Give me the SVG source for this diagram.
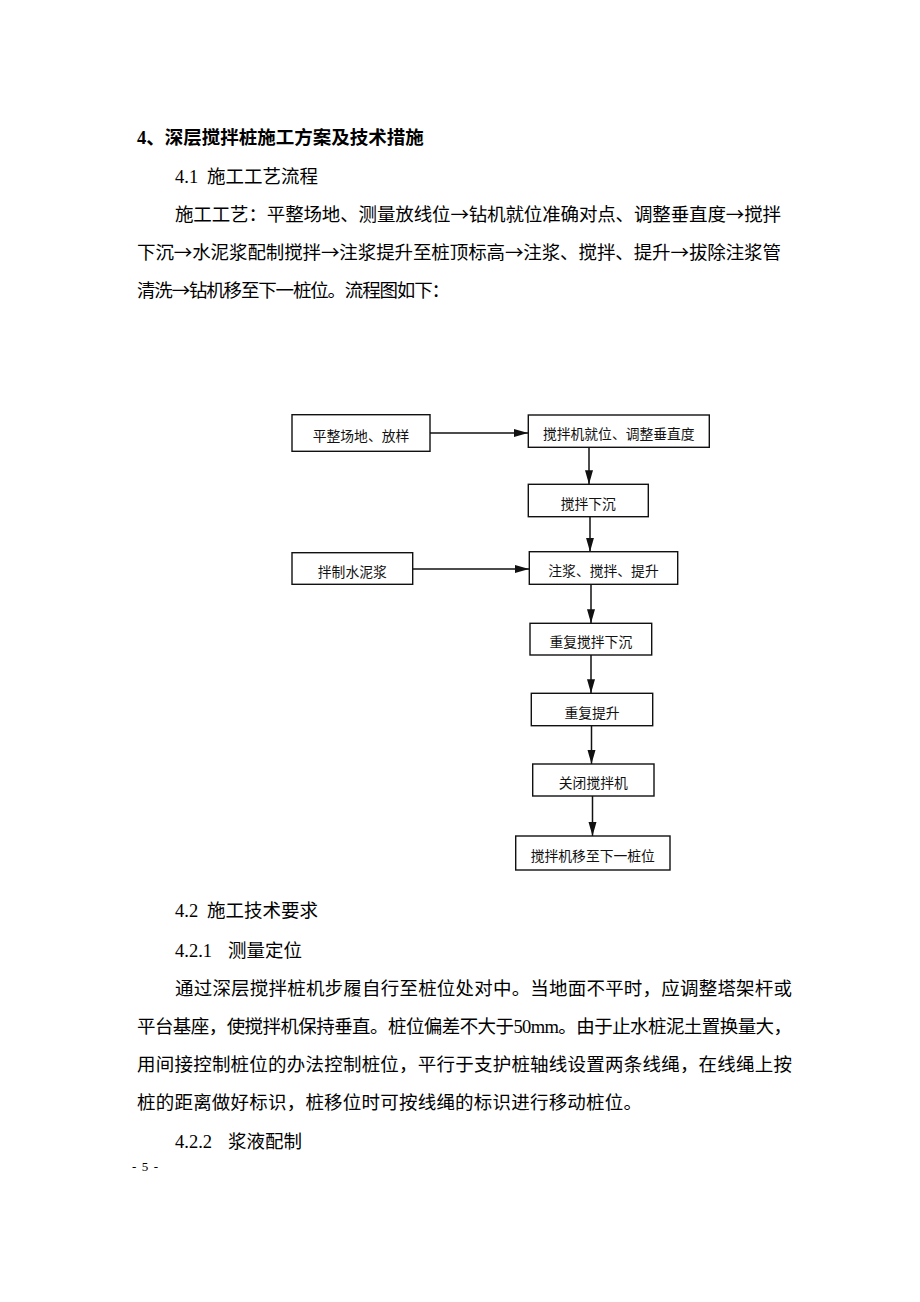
<svg xmlns="http://www.w3.org/2000/svg" width="920" height="1302" viewBox="0 0 920 1302">
<style>
.body{font-family:"Liberation Serif","Noto Sans CJK SC",serif;font-size:18.5px;fill:#000}
.head{font-weight:bold}
.ar{font-family:"Noto Sans CJK SC",sans-serif}
.box{fill:#fff;stroke:#111;stroke-width:1.4}
.lbl{font-family:"Noto Sans CJK SC","Liberation Serif",sans-serif;font-size:13.8px;fill:#111;text-anchor:middle}
.con{stroke:#111;stroke-width:1.5;fill:none;marker-end:url(#ah)}
.foot{font-family:"Liberation Serif",serif;font-size:13px;fill:#000}
</style>
<defs>
<marker id="ah" markerUnits="userSpaceOnUse" markerWidth="15" markerHeight="9" refX="14" refY="4" orient="auto">
<path d="M0,0 L14,4 L0,8 z" fill="#111"/>
</marker>
</defs>
<rect width="920" height="1302" fill="#fff"/>

<g id="text-top">
<text class="body head" x="137" y="143.5">4、深层搅拌桩施工方案及技术措施</text>
<text class="body" x="175" y="182.5">4.1<tspan x="207">施工工艺流程</tspan></text>
<text class="body" x="175" y="220.5" textLength="606">施工工艺：平整场地、测量放线位<tspan class="ar">→</tspan>钻机就位准确对点、调整垂直度<tspan class="ar">→</tspan>搅拌</text>
<text class="body" x="137" y="258.5" textLength="644">下沉<tspan class="ar">→</tspan>水泥浆配制搅拌<tspan class="ar">→</tspan>注浆提升至桩顶标高<tspan class="ar">→</tspan>注浆、搅拌、提升<tspan class="ar">→</tspan>拔除注浆管</text>
<text class="body" x="137" y="296.5" textLength="313">清洗<tspan class="ar">→</tspan>钻机移至下一桩位。流程图如下：</text>
</g>

<g id="connectors">
<line class="con" x1="430" y1="433" x2="528" y2="433"/>
<line class="con" x1="413" y1="569" x2="529" y2="569"/>
<line class="con" x1="589" y1="447.5" x2="589" y2="484.3"/>
<line class="con" x1="590" y1="516.7" x2="590" y2="551.7"/>
<line class="con" x1="591" y1="584.3" x2="591" y2="623.3"/>
<line class="con" x1="591" y1="655" x2="591" y2="693.3"/>
<line class="con" x1="591.5" y1="725.7" x2="591.5" y2="764"/>
<line class="con" x1="592.5" y1="796" x2="592.5" y2="836"/>
</g>

<g id="n1"><rect class="box" x="292" y="414.7" width="138" height="36.6"/><text class="lbl" x="361" y="441">平整场地、放样</text></g>
<g id="n2"><rect class="box" x="528.3" y="415" width="181" height="32.3"/><text class="lbl" x="618.8" y="439.2">搅拌机就位、调整垂直度</text></g>
<g id="n3"><rect class="box" x="528.3" y="484.3" width="120" height="32.4"/><text class="lbl" x="588.3" y="508.5">搅拌下沉</text></g>
<g id="n4"><rect class="box" x="292" y="552.7" width="120.7" height="31.6"/><text class="lbl" x="352.3" y="576.5">拌制水泥浆</text></g>
<g id="n5"><rect class="box" x="529.3" y="551.7" width="148.4" height="32.6"/><text class="lbl" x="603.5" y="576">注浆、搅拌、提升</text></g>
<g id="n6"><rect class="box" x="530" y="623.3" width="121.7" height="31.7"/><text class="lbl" x="590.8" y="647">重复搅拌下沉</text></g>
<g id="n7"><rect class="box" x="531.3" y="693.3" width="121.4" height="32.4"/><text class="lbl" x="592" y="717.5">重复提升</text></g>
<g id="n8"><rect class="box" x="532.7" y="764" width="121.3" height="32"/><text class="lbl" x="593.3" y="788">关闭搅拌机</text></g>
<g id="n9"><rect class="box" x="515.7" y="836" width="154.3" height="34"/><text class="lbl" x="592.8" y="861">搅拌机移至下一桩位</text></g>

<g id="text-bottom">
<text class="body" x="175" y="917">4.2<tspan x="207">施工技术要求</tspan></text>
<text class="body" x="175" y="957">4.2.1<tspan x="228">测量定位</tspan></text>
<text class="body" x="175" y="995" textLength="617">通过深层搅拌桩机步履自行至桩位处对中。当地面不平时，应调整塔架杆或</text>
<text class="body" x="137" y="1033" textLength="655">平台基座，使搅拌机保持垂直。桩位偏差不大于50mm。由于止水桩泥土置换量大，</text>
<text class="body" x="137" y="1071" textLength="655">用间接控制桩位的办法控制桩位，平行于支护桩轴线设置两条线绳，在线绳上按</text>
<text class="body" x="137" y="1109" textLength="505">桩的距离做好标识，桩移位时可按线绳的标识进行移动桩位。</text>
<text class="body" x="175" y="1148">4.2.2<tspan x="228">浆液配制</tspan></text>
<text class="foot" x="132" y="1171" textLength="26">- 5 -</text>
</g>
</svg>
